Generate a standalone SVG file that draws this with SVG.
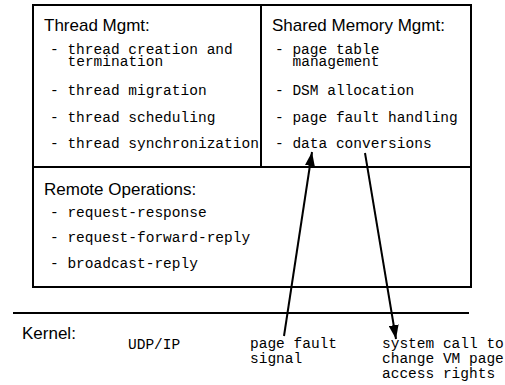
<svg xmlns="http://www.w3.org/2000/svg" width="505" height="385" viewBox="0 0 505 385">
<style>
.box{fill:none;stroke:#000;stroke-width:2}
.h{font-family:"Liberation Sans",Arial,sans-serif;font-size:17px;fill:#000}
.m{font-family:"Liberation Mono","Courier New",monospace;font-size:14.5px;fill:#000}
.c{stroke:#000;stroke-width:2;fill:none}
</style>
<defs>
<marker id="ah" viewBox="0 0 14 10" refX="14" refY="5" markerWidth="14" markerHeight="10" orient="auto" markerUnits="userSpaceOnUse">
<path d="M0,0 L14,5 L0,10 z" fill="#000"/>
</marker>
</defs>
<g id="thread-mgmt">
<rect class="box" x="33" y="5" width="228" height="162"/>
<text class="h" x="44" y="31">Thread Mgmt:</text>
<text class="m" x="50" y="54">- thread creation and</text>
<text class="m" x="67.5" y="66">termination</text>
<text class="m" x="50" y="95">- thread migration</text>
<text class="m" x="50" y="122">- thread scheduling</text>
<text class="m" x="50" y="148">- thread synchronization</text>
</g>
<g id="shared-memory-mgmt">
<rect class="box" x="261" y="5" width="210" height="162"/>
<text class="h" x="272" y="31">Shared Memory Mgmt:</text>
<text class="m" x="275" y="54">- page table</text>
<text class="m" x="292.5" y="66">management</text>
<text class="m" x="275" y="95">- DSM allocation</text>
<text class="m" x="275" y="122">- page fault handling</text>
<text class="m" x="275" y="148">- data conversions</text>
</g>
<g id="remote-operations">
<rect class="box" x="33" y="167" width="438" height="120"/>
<text class="h" x="44" y="195">Remote Operations:</text>
<text class="m" x="50" y="217">- request-response</text>
<text class="m" x="50" y="242">- request-forward-reply</text>
<text class="m" x="50" y="268">- broadcast-reply</text>
</g>
<g id="kernel">
<line x1="13" y1="313" x2="469" y2="313" stroke="#000" stroke-width="2"/>
<text class="h" x="22" y="339">Kernel:</text>
<text class="m" x="128" y="349">UDP/IP</text>
<text class="m" x="250" y="348">page fault</text>
<text class="m" x="250" y="363">signal</text>
<text class="m" x="382" y="348">system call to</text>
<text class="m" x="382" y="363">change VM page</text>
<text class="m" x="382" y="378">access rights</text>
</g>
<g id="connectors">
<line class="c" x1="284" y1="336" x2="312" y2="152" marker-end="url(#ah)"/>
<line class="c" x1="365" y1="153" x2="396" y2="339" marker-end="url(#ah)"/>
</g>
</svg>
